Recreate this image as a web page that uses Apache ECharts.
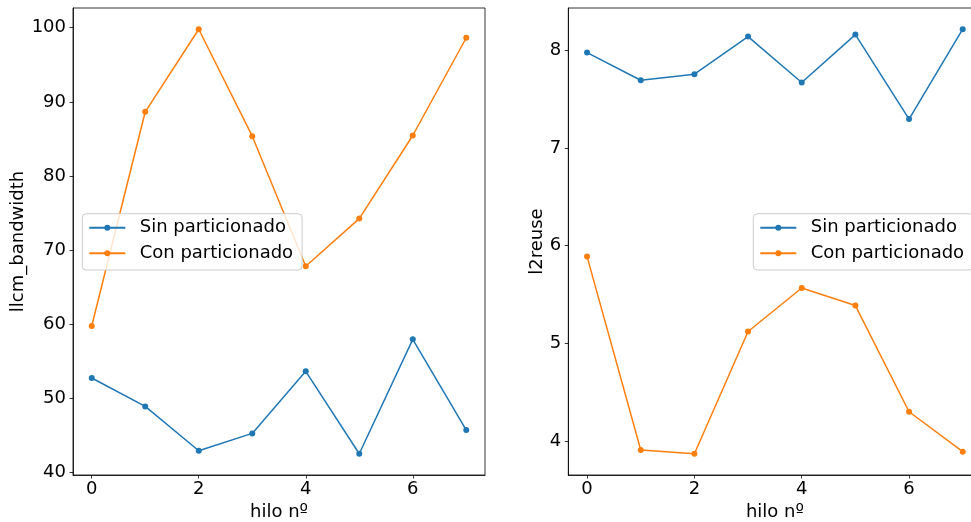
<!DOCTYPE html>
<html>
<head>
<meta charset="utf-8">
<script src="https://cdn.jsdelivr.net/npm/echarts@6/dist/echarts.min.js"></script>
<style>
  html, body { margin: 0; padding: 0; background: #fff; }
  #chart { width: 971px; height: 522px; }
</style>
</head>
<body>
<div id="chart"></div>
<script>
// Thread index on the x axis
const hilos = [0, 1, 2, 3, 4, 5, 6, 7];

// LLC bandwidth per thread
const llcmSin = [52.74, 48.91, 42.93, 45.27, 53.64, 42.52, 57.96, 45.72];
const llcmCon = [59.76, 88.66, 99.8, 85.37, 67.82, 74.25, 85.46, 98.65];

// L2 reuse per thread
const l2Sin = [7.976, 7.693, 7.755, 8.14, 7.67, 8.16, 7.295, 8.215];
const l2Con = [5.888, 3.908, 3.87, 5.121, 5.567, 5.387, 4.30, 3.891];

// Tick labels
const xTicks = [0, 2, 4, 6];
const yTicksLlcm = [40, 50, 60, 70, 80, 90, 100];
const yTicksL2 = [4, 5, 6, 7, 8];

const seriesNames = ['Sin particionado', 'Con particionado'];
const colors = ['#1f77b4', '#ff7f0e'];
const FONT = 'DejaVu Sans';

const pairs = (ys) => ys.map((y, i) => [hilos[i], y]);
const pad5 = {
  min: v => v.min - 0.05 * (v.max - v.min),
  max: v => v.max + 0.05 * (v.max - v.min)
};

function xAxisFor(gridIndex) {
  return {
    type: 'value',
    gridIndex,
    min: -0.35,
    max: 7.35,
    name: 'hilo nº',
    nameLocation: 'middle',
    nameGap: 25,
    nameTextStyle: { fontFamily: FONT, fontSize: 18, color: '#000' },
    axisLine: { show: true, onZero: false, lineStyle: { color: '#000', width: 0.8 } },
    axisTick: { show: true, inside: false, length: 3.5, customValues: xTicks, lineStyle: { color: '#000', width: 0.8 } },
    axisLabel: { show: true, margin: 5, customValues: xTicks, fontFamily: FONT, fontSize: 18, color: '#000' },
    splitLine: { show: false }
  };
}

function yAxisFor(gridIndex, name, ticks, gap) {
  return {
    type: 'value',
    gridIndex,
    min: pad5.min,
    max: pad5.max,
    name,
    nameLocation: 'middle',
    nameRotate: 90,
    nameGap: gap,
    nameTextStyle: { fontFamily: FONT, fontSize: 18, color: '#000' },
    axisLine: { show: true, onZero: false, lineStyle: { color: '#000', width: 0.8 } },
    axisTick: { show: true, inside: false, length: 3.5, customValues: ticks, lineStyle: { color: '#000', width: 0.8 } },
    axisLabel: { show: true, margin: 7, customValues: ticks, fontFamily: FONT, fontSize: 18, color: '#000' },
    splitLine: { show: false }
  };
}

function lineSeries(name, ys, idx, color) {
  return {
    type: 'line',
    name,
    xAxisIndex: idx,
    yAxisIndex: idx,
    data: pairs(ys),
    symbol: 'circle',
    symbolSize: 6,
    showSymbol: true,
    lineStyle: { color, width: 1.5 },
    itemStyle: { color },
    animation: false,
    silent: true
  };
}

function legendAt(left) {
  return {
    orient: 'vertical',
    left,
    top: 213.7,
    data: seriesNames,
    selectedMode: false,
    itemWidth: 36,
    itemHeight: 7.5,
    itemGap: 7.6,
    padding: [5, 9, 7.7, 6],
    backgroundColor: 'rgba(255,255,255,0.8)',
    borderColor: '#cccccc',
    borderWidth: 1,
    borderRadius: 4,
    textStyle: { fontFamily: FONT, fontSize: 18, color: '#000', padding: [0, 0, 0, 9.4] }
  };
}

const gridBase = {
  top: 8, bottom: 47, show: true, borderColor: '#000', borderWidth: 0.8,
  backgroundColor: 'transparent', containLabel: false, outerBoundsMode: 'none'
};

const chart = echarts.init(document.getElementById('chart'), null, { renderer: 'canvas' });
chart.setOption({
  animation: false,
  backgroundColor: '#fff',
  color: colors,
  grid: [
    Object.assign({ left: 73, right: 486 }, gridBase),
    Object.assign({ left: 568.3, right: -10.5 }, gridBase)
  ],
  xAxis: [xAxisFor(0), xAxisFor(1)],
  yAxis: [
    yAxisFor(0, 'llcm_bandwidth', yTicksLlcm, 44),
    yAxisFor(1, 'l2reuse', yTicksL2, 20)
  ],
  legend: [legendAt(82.3), legendAt(753.3)],
  series: [
    lineSeries(seriesNames[0], llcmSin, 0, colors[0]),
    lineSeries(seriesNames[1], llcmCon, 0, colors[1]),
    lineSeries(seriesNames[0], l2Sin, 1, colors[0]),
    lineSeries(seriesNames[1], l2Con, 1, colors[1])
  ]
});
</script>
</body>
</html>
